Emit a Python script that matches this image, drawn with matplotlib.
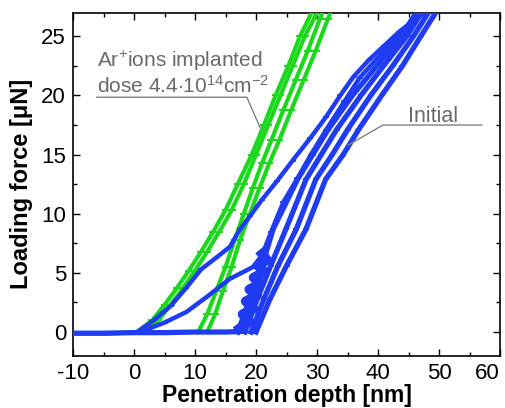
import matplotlib
matplotlib.use("Agg")
import matplotlib.pyplot as plt

plt.rcParams['font.family'] = ['Liberation Sans', 'DejaVu Sans']
plt.rcParams['mathtext.fontset'] = 'custom'
plt.rcParams['mathtext.rm'] = 'Liberation Sans'
plt.rcParams['mathtext.it'] = 'Liberation Sans:italic'
plt.rcParams['axes.unicode_minus'] = False

GREEN = '#1cd81c'
BLUE = '#1f3cf2'
GRAY = '#6a6a6a'

# Ar+ implanted sample (green)
g_load1_x = [-10, -5, 0.5, 3, 5, 7, 9, 11, 13, 15, 17, 19.3, 21.3, 23.2, 25.3, 27.2, 29.3]
g_load1_y = [-0.15, -0.15, 0, 1, 2.3, 3.7, 5.2, 6.8, 8.5, 10.3, 12.5, 15, 17.5, 20, 22.5, 25, 27.2]
g_load2_x = [1.5, 4, 6, 8, 10, 12, 14, 16, 18, 20, 22, 24, 26, 28, 30.2]
g_load2_y = [0, 1, 2.3, 3.7, 5.2, 6.8, 8.5, 10.3, 12.5, 15, 17.5, 20, 22.5, 25, 27.2]
g_unl1_x = [10.5, 12, 13.5, 15, 16.5, 18, 19.5, 21, 22.5, 24.5, 26.5, 28.5, 30.5, 31.1]
g_unl1_y = [0, 1.5, 3.5, 5.5, 7.8, 10, 12.2, 14.3, 16.2, 18.8, 21.3, 23.8, 26.5, 27.3]
g_unl2_x = [12, 13.3, 14.6, 16, 17.4, 19, 20.6, 22.2, 23.8, 25.8, 27.8, 29.8, 31.8, 32.4]
g_unl2_y = [0, 1.5, 3.5, 5.5, 7.8, 10, 12.2, 14.3, 16.2, 18.8, 21.3, 23.8, 26.5, 27.3]

# initial sample (blue)
b_base_x = [-10, -5, 0, 5, 10, 15, 17.5]
b_base_y = [-0.1, -0.1, -0.05, -0.05, 0, 0, 0.05]
b_load1_x = [0.5, 3, 6, 8.5, 11, 13.5, 15.7, 17.4, 19, 21, 23.5, 26, 28.9, 31.5, 33.8, 36, 38.5, 41, 43.5, 46.5, 48.5]
b_load1_y = [0, 0.9, 2.2, 3.7, 5.3, 6.3, 7.2, 8.7, 9.8, 11.2, 12.8, 14.5, 16.4, 18.2, 20.0, 21.6, 23, 24.2, 25.4, 26.6, 27.2]
b_load2_x = [1, 5, 8.6, 12, 15.7, 18, 19.5, 21, 22.5, 24.5, 26.8, 29, 31.5, 34.5, 37, 40.5, 44, 47]
b_load2_y = [0, 0.8, 1.7, 3, 4.5, 5.1, 5.5, 6.5, 8.5, 11, 13, 15, 17.1, 19.5, 21.5, 23.5, 25.3, 27.2]
b_blob_x = [17.3, 18.9, 17.8, 19.6, 18.3, 20.2, 18.9, 20.8, 19.6, 21.4, 20.3, 21.8, 21.0]
b_blob_y = [0.3, 0.9, 1.5, 2.0, 2.6, 3.1, 3.6, 4.1, 4.6, 5.1, 5.6, 6.1, 6.6]
bundle_y = [0, 2.8, 5.6, 8.7, 12.9, 15, 17.1, 20, 22.5, 25, 27.2]
bundle_xa = [17, 19, 21, 22.8, 26.8, 29.3, 31.8, 35.8, 39.8, 43.8, 46.5]
bundle_xb = [18.2, 20.2, 22.4, 24.9, 28.2, 30.7, 33.2, 37.2, 40.9, 44.7, 47.4]
bundle_xc = [19.2, 21.3, 23.6, 26.6, 29.8, 32.5, 35, 38.8, 42.4, 45.8, 48.5]
bundle_xd = [20, 22.3, 25, 28.2, 31.4, 34.3, 36.8, 40.6, 44, 47, 49.7]

fig = plt.figure(figsize=(5.05, 4.08), dpi=100)
ax = fig.add_axes([0.1446, 0.1282, 0.8455, 0.8407])

for xs, ys in [(g_load1_x, g_load1_y), (g_load2_x, g_load2_y),
               (g_unl1_x, g_unl1_y), (g_unl2_x, g_unl2_y)]:
    ax.plot(xs, ys, color=GREEN, lw=3, marker='_', ms=6, mew=1.5, zorder=3)

ax.plot(b_base_x, b_base_y, color=BLUE, lw=3.8, zorder=4)
for xs, ys in [(b_load1_x, b_load1_y), (b_load2_x, b_load2_y)]:
    ax.plot(xs, ys, color=BLUE, lw=3.2, marker='_', ms=5, mew=1.3, zorder=4)
for xs in [bundle_xa, bundle_xb, bundle_xc, bundle_xd]:
    ax.plot(xs, bundle_y, color=BLUE, lw=3.8, marker='_', ms=5, mew=1.3, zorder=4)
ax.plot(b_blob_x, b_blob_y, color=BLUE, lw=7, solid_joinstyle='round', zorder=4)

# annotations
ax.plot([-6.1, 18.5, 20.7], [19.85, 19.85, 17.25], color='#808080', lw=1, zorder=5)
ax.text(-6.1, 22.4, 'Ar$^{+}$ions implanted', color=GRAY, fontsize=15)
ax.text(-6.1, 20.25, 'dose 4.4$\\cdot$10$^{14}$cm$^{-2}$', color=GRAY, fontsize=15)
ax.plot([57.0, 40.8, 35.1], [17.5, 17.5, 15.8], color='#808080', lw=1, zorder=5)
ax.text(49.0, 17.8, 'Initial', color=GRAY, fontsize=15.5, ha='center')

ax.set_xlim(-10, 60)
ax.set_ylim(-2, 27)
ax.set_xticks(range(-10, 61, 10))
ax.set_xticks(range(-5, 60, 10), minor=True)
ax.set_yticks(range(0, 26, 5))
ax.set_yticks([2.5, 7.5, 12.5, 17.5, 22.5], minor=True)
ax.tick_params(which='both', direction='in', top=True, right=True, labelsize=16, width=1)
ax.tick_params(which='major', length=5, pad=5)
ax.tick_params(which='minor', length=3)
ax.get_xticklabels()[-1].set_horizontalalignment('right')
for s in ax.spines.values():
    s.set_linewidth(1.2)

ax.set_xlabel('Penetration depth [nm]', fontsize=16.5, fontweight='bold', labelpad=0)
ax.set_ylabel('Loading force [\u03bcN]', fontsize=17, fontweight='bold', labelpad=6)

fig.savefig('out.png', dpi=100)
